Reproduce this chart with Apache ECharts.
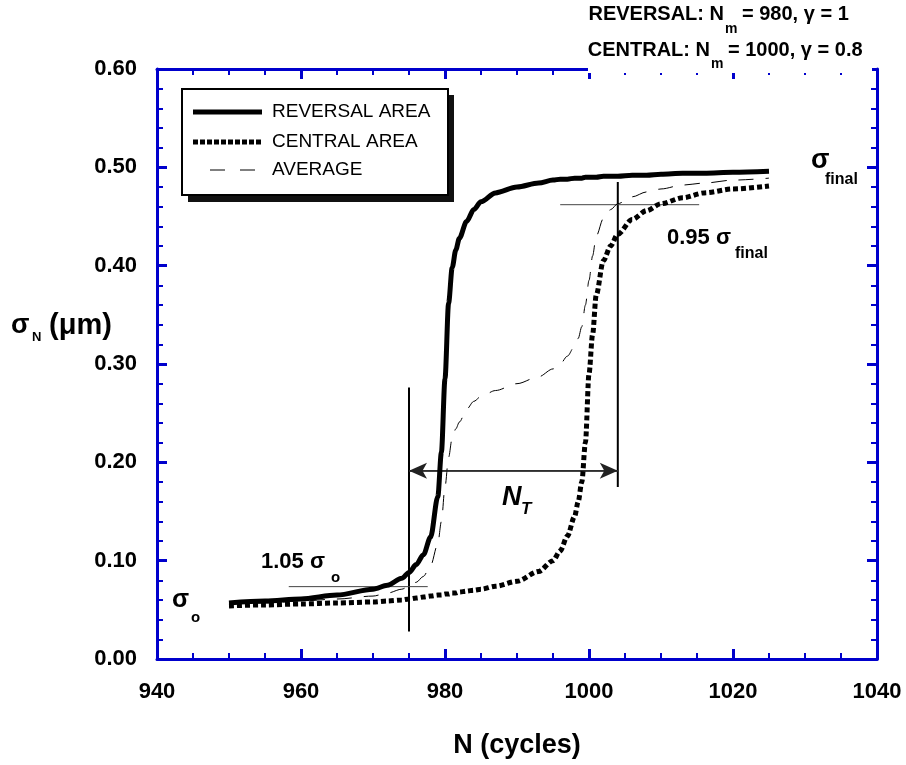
<!DOCTYPE html>
<html>
<head>
<meta charset="utf-8">
<script src="https://cdn.jsdelivr.net/npm/echarts@6/dist/echarts.min.js"></script>
<style>
html, body { margin: 0; padding: 0; background: #fff; }
#chart { width: 906px; height: 765px; }
</style>
</head>
<body>
<div id="chart"></div>
<script>
// cycles N, shared by the three curves
var cycles = [950, 955, 960, 965, 970, 972, 974, 975, 976, 977, 978, 979, 979.5, 980, 980.5, 981, 981.5, 982, 983, 984,
  985, 987, 990, 993, 995, 996, 997, 998, 998.5, 999, 999.5, 1000, 1000.5, 1001, 1002, 1003, 1004, 1006, 1008, 1010,
  1013, 1016, 1020, 1025];
var reversalArea = [0.057, 0.059, 0.061, 0.065, 0.071, 0.075, 0.082, 0.088, 0.096, 0.106, 0.124, 0.165, 0.21, 0.285, 0.362,
  0.398, 0.416, 0.428, 0.445, 0.457, 0.465, 0.474, 0.480, 0.484, 0.487, 0.488, 0.488, 0.489, 0.489, 0.489, 0.49, 0.49, 0.49,
  0.49, 0.491, 0.491, 0.491, 0.492, 0.492, 0.493, 0.494, 0.494, 0.495, 0.496];
var centralArea = [0.054, 0.055, 0.056, 0.057, 0.058, 0.059, 0.060, 0.061, 0.062, 0.063, 0.064, 0.065, 0.065, 0.066, 0.066,
  0.067, 0.067, 0.068, 0.069, 0.070, 0.071, 0.074, 0.079, 0.089, 0.100, 0.110, 0.125, 0.145, 0.160, 0.180, 0.22, 0.29, 0.33,
  0.37, 0.405, 0.42, 0.432, 0.447, 0.456, 0.463, 0.469, 0.474, 0.478, 0.481];
var averageArea = [0.056, 0.057, 0.059, 0.061, 0.064, 0.067, 0.071, 0.074, 0.078, 0.084, 0.095, 0.117, 0.14, 0.175, 0.205,
  0.225, 0.234, 0.241, 0.254, 0.262, 0.267, 0.273, 0.280, 0.287, 0.295, 0.300, 0.308, 0.318, 0.326, 0.338, 0.36, 0.385,
  0.41, 0.43, 0.448, 0.457, 0.463, 0.47, 0.475, 0.478, 0.482, 0.484, 0.487, 0.489];

// guide lines (N, sigma)
var startLine = [[975, 0.028], [975, 0.276]];
var endLine = [[1004, 0.175], [1004, 0.485]];
var level105 = [[958.3, 0.0736], [977.6, 0.0736]];
var level095 = [[996, 0.462], [1015.3, 0.462]];
var spanNT = [[975, 0.1915], [1004, 0.1915]];

var seriesNames = ['REVERSAL AREA', 'CENTRAL AREA', 'AVERAGE'];

var BLUE = '#0000cc';
var FONT = '"Liberation Sans", Arial, sans-serif';

function pairs(ys) {
  return cycles.map(function (n, i) { return [n, ys[i]]; });
}

function axisX(pos, showLabel) {
  return {
    type: 'value', position: pos, min: 940, max: 1040, interval: 20,
    axisLine: { onZero: false, lineStyle: { color: BLUE, width: 3 } },
    axisTick: { inside: true, length: 10, lineStyle: { color: BLUE, width: 3 } },
    minorTick: { show: true, splitNumber: 4, length: 6, lineStyle: { color: BLUE, width: 2 } },
    splitLine: { show: false },
    axisLabel: {
      show: showLabel, margin: 22, color: '#000', fontSize: 22, fontWeight: 'bold', fontFamily: FONT,
      formatter: function (v) { return String(v); }
    }
  };
}
function axisY(pos, showLabel) {
  return {
    type: 'value', position: pos, min: 0, max: 0.6, interval: 0.1,
    axisLine: { onZero: false, lineStyle: { color: BLUE, width: 3 } },
    axisTick: { inside: true, length: 10, lineStyle: { color: BLUE, width: 3 } },
    minorTick: { show: true, splitNumber: 5, length: 6, lineStyle: { color: BLUE, width: 2 } },
    splitLine: { show: false },
    axisLabel: {
      show: showLabel, margin: 20, color: '#000', fontSize: 22, fontWeight: 'bold', fontFamily: FONT,
      formatter: function (v) { return v.toFixed(2); }
    }
  };
}

function guide(data, width, color) {
  return {
    type: 'line', data: data, symbol: 'none', silent: true, z: 3,
    lineStyle: { color: color, width: width }
  };
}

function txt(x, y, s, size, opts) {
  opts = opts || {};
  return {
    type: 'text', x: x, y: y, z: 110, silent: true,
    style: {
      text: s, fill: '#000',
      font: (opts.italic ? 'italic ' : '') + (opts.normal ? 'normal ' : 'bold ') + size + 'px ' + FONT,
      align: opts.align || 'left', textAlign: opts.align || 'left',
      verticalAlign: 'middle', textVerticalAlign: 'middle'
    }
  };
}

var chart = echarts.init(document.getElementById('chart'));

var option = {
  backgroundColor: '#fff',
  animation: false,
  grid: { left: 157, right: 29, top: 69, bottom: 106, containLabel: false },
  xAxis: [
    Object.assign(axisX('bottom', true), {
      name: 'N (cycles)', nameLocation: 'middle', nameGap: 73,
      nameTextStyle: { color: '#000', fontSize: 27, fontWeight: 'bold', fontFamily: FONT }
    }),
    axisX('top', false)
  ],
  yAxis: [axisY('left', true), axisY('right', false)],
  series: [
    {
      name: seriesNames[0], type: 'line', data: pairs(reversalArea), symbol: 'none',
      smooth: 0.3, smoothMonotone: 'x', z: 5,
      lineStyle: { color: '#000', width: 5 }
    },
    {
      name: seriesNames[1], type: 'line', data: pairs(centralArea), symbol: 'none',
      smooth: 0.3, smoothMonotone: 'x', z: 5,
      lineStyle: { color: '#000', width: 5, type: [5, 3], cap: 'butt' }
    },
    {
      name: seriesNames[2], type: 'line', data: pairs(averageArea), symbol: 'none',
      smooth: 0.3, smoothMonotone: 'x', z: 4,
      lineStyle: { color: '#000', width: 1, type: [15, 12] }
    },
    guide(startLine, 2, '#000'),
    guide(endLine, 2, '#000'),
    guide(level105, 1, '#444'),
    guide(level095, 1, '#444'),
    {
      type: 'line', data: spanNT, symbol: 'none', silent: true, z: 3,
      lineStyle: { color: '#555', width: 1.5 },
      markLine: {
        silent: true, symbol: ['arrow', 'arrow'], symbolSize: [12, 18],
        label: { show: false },
        lineStyle: { color: '#222', width: 1.5, type: 'solid' },
        data: [[{ coord: spanNT[0] }, { coord: spanNT[1] }]]
      }
    }
  ],
  graphic: [
    // white band behind the parameter text (hides the top frame there)
    { type: 'rect', z: 100, silent: true, shape: { x: 588, y: 0, width: 284, height: 73 }, style: { fill: '#fff' } },
    txt(724, 14, 'REVERSAL: N', 20, { align: 'right' }),
    txt(725, 29, 'm', 14),
    txt(742, 14, '= 980, γ = 1', 20),
    txt(710, 50, 'CENTRAL: N', 20, { align: 'right' }),
    txt(711, 64, 'm', 14),
    txt(728, 50, '= 1000, γ = 0.8', 20),

    // y axis title
    txt(11, 326, 'σ', 27),
    txt(32, 337, 'N', 13),
    txt(49, 326, '(μm)', 29),

    // annotations
    txt(172, 600, 'σ', 25),
    txt(191, 618, 'o', 15),
    txt(261, 562, '1.05 σ', 22),
    txt(331, 578, 'o', 15),
    txt(502, 498, 'N', 27, { italic: true }),
    txt(521, 509, 'T', 17, { italic: true }),
    txt(811, 161, 'σ', 27),
    txt(825, 180, 'final', 16),
    txt(667, 238, '0.95 σ', 22),
    txt(735, 254, 'final', 16),

    // legend box
    { type: 'rect', z: 100, silent: true, shape: { x: 188, y: 95, width: 266, height: 107 }, style: { fill: '#111' } },
    { type: 'rect', z: 101, silent: true, shape: { x: 182, y: 89, width: 266, height: 106 },
      style: { fill: '#fff', stroke: '#000', lineWidth: 2 } },
    { type: 'line', z: 102, silent: true, shape: { x1: 193, y1: 112, x2: 262, y2: 112 },
      style: { stroke: '#000', lineWidth: 5 } },
    { type: 'line', z: 102, silent: true, shape: { x1: 193, y1: 142, x2: 262, y2: 142 },
      style: { stroke: '#000', lineWidth: 5, lineDash: [5, 2] } },
    { type: 'line', z: 102, silent: true, shape: { x1: 210, y1: 170, x2: 255, y2: 170 },
      style: { stroke: '#000', lineWidth: 1, lineDash: [15, 15] } },
    txt(272, 112, seriesNames[0], 19, { normal: true }),
    txt(272, 142, seriesNames[1], 19, { normal: true }),
    txt(272, 170, seriesNames[2], 19, { normal: true })
  ]
};

chart.setOption(option);
</script>
</body>
</html>
